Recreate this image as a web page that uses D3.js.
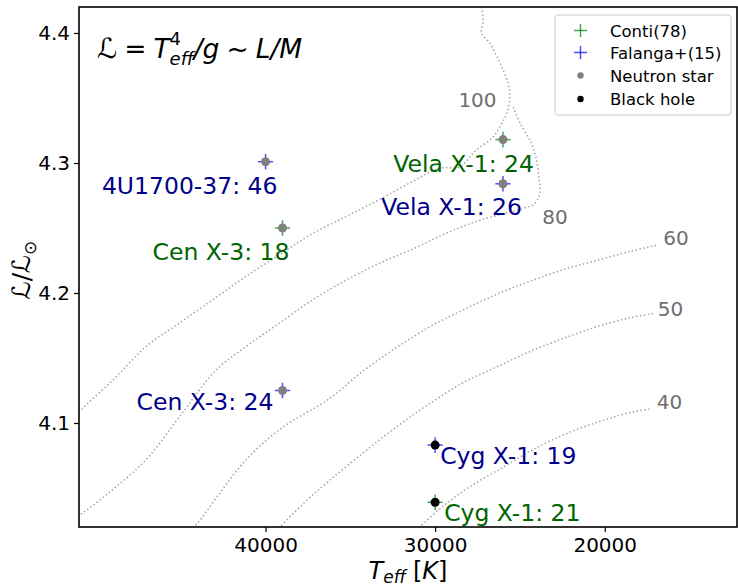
<!DOCTYPE html>
<html>
<head>
<meta charset="utf-8">
<script src="https://cdn.jsdelivr.net/npm/d3@7"></script>
<style>
  body { margin: 0; background: #fff; }
  svg { display: block; font-family: "DejaVu Sans", "Noto Sans", sans-serif; }
</style>
</head>
<body>
<svg id="chart" width="738" height="586"></svg>
<script>
// ---- HMXB donor stars: effective temperature vs spectroscopic luminosity ----
const contiNames = ["Vela X-1", "Cen X-3", "Cyg X-1"];
const contiTeff  = [26000, 39000, 30000];
const contiLogL  = [4.318, 4.250, 4.039];
const contiMass  = [24, 18, 21];
const contiKind  = ["NS", "NS", "BH"];

const falangaNames = ["4U1700-37", "Vela X-1", "Cen X-3", "Cyg X-1"];
const falangaTeff  = [40000, 26000, 39000, 30000];
const falangaLogL  = [4.301, 4.284, 4.125, 4.083];
const falangaMass  = [46, 26, 24, 19];
const falangaKind  = ["NS", "NS", "NS", "BH"];

const teffErr = 450;
const logLErr = 0.006;

// iso-mass tracks, [Teff, log L/L_sun]
const massLevels = [100, 80, 60, 50, 40];
const track100 = [[27262,4.420],[27168,4.410],[27262,4.400],[26773,4.392],[26183,4.377],[25693,4.361],
  [25593,4.351],[25787,4.338],[26183,4.328],[26578,4.320],[27658,4.309],[28543,4.297],[29723,4.296],
  [31298,4.286],[33263,4.272],[35227,4.259],[37198,4.246],[38767,4.233],[41127,4.213],[43098,4.195],
  [45063,4.177],[47027,4.159],[48998,4.133],[50963,4.109],[51500,4.101]];
const track80 = [[25398,4.343],[25003,4.331],[24312,4.315],[24017,4.302],[23864,4.287],[23823,4.277],
  [24118,4.269],[24808,4.265],[27363,4.256],[29327,4.246],[31298,4.234],[33263,4.223],[35227,4.210],
  [37198,4.195],[39163,4.177],[41127,4.159],[42897,4.141],[45063,4.105],[47027,4.072],[48998,4.049],
  [50768,4.031],[51500,4.025]];
const track60 = [[44500,4.018],[44077,4.022],[42703,4.046],[41127,4.072],[39163,4.095],[36213,4.119],
  [34248,4.140],[32277,4.158],[30313,4.174],[28348,4.187],[26377,4.199],[24413,4.209],[22448,4.218],
  [20477,4.225],[18513,4.232],[16843,4.237]];
const track50 = [[39400,4.017],[39163,4.020],[37688,4.039],[36213,4.056],[34248,4.077],[32277,4.097],
  [30313,4.115],[28348,4.131],[26377,4.143],[24413,4.155],[22448,4.165],[20477,4.174],[18513,4.181],
  [17138,4.184]];
const track40 = [[31100,4.017],[30903,4.020],[29528,4.036],[27953,4.051],[25988,4.066],[24017,4.081],
  [22053,4.093],[20088,4.102],[18513,4.108],[17215,4.111]];
const tracks = [track100, track80, track60, track50, track40];
// where each mass value is written, [Teff, log L]
const massLabelAt = [[26377,4.3433],[23687,4.2528],[16548,4.2369],[16878,4.1825],[16937,4.1108]];
const massLabelAnchor = ["end", "start", "start", "start", "start"];

const xTicks = [40000, 30000, 20000];
const yTicks = [4.1, 4.2, 4.3, 4.4];
const legendLabels = ["Conti(78)", "Falanga+(15)", "Neutron star", "Black hole"];

// ---- layout ----
const W = 738, H = 586;
const plot = { left: 79, right: 737, top: 7, bottom: 527 };
const svg = d3.select("#chart");

const x = d3.scaleLinear().domain([51000, 12200]).range([plot.left, plot.right]);
const y = d3.scaleLinear().domain([4.02, 4.42]).range([plot.bottom, plot.top]);

const colors = {
  contiCross: "rgba(0,128,0,0.7)", falangaCross: "rgba(0,0,255,0.7)",
  contiText: "#006400", falangaText: "#00008b",
  NS: "#808080", BH: "#000000", track: "#a4a4a4", trackText: "#6e6e6e"
};

svg.append("defs").append("clipPath").attr("id", "plotClip")
  .append("rect").attr("x", plot.left).attr("y", plot.top)
  .attr("width", plot.right - plot.left).attr("height", plot.bottom - plot.top);

// ---- iso-mass tracks ----
const line = d3.line().x(d => x(d[0])).y(d => y(d[1])).curve(d3.curveCatmullRom.alpha(0.5));
const gTracks = svg.append("g").attr("clip-path", "url(#plotClip)");
tracks.forEach(t => {
  gTracks.append("path").attr("d", line(t)).attr("fill", "none")
    .attr("stroke", colors.track).attr("stroke-width", 1.5)
    .attr("stroke-dasharray", "1.5,2.4");
});
massLevels.forEach((m, i) => {
  svg.append("text").attr("x", x(massLabelAt[i][0])).attr("y", y(massLabelAt[i][1]))
    .attr("text-anchor", massLabelAnchor[i]).attr("font-size", 20)
    .attr("fill", colors.trackText).text(m);
});

// ---- stars ----
function rows(names, teff, logL, mass, kind, set) {
  return names.map((n, i) => ({ name: n, T: teff[i], L: logL[i], M: mass[i], kind: kind[i], set }));
}
const stars = rows(contiNames, contiTeff, contiLogL, contiMass, contiKind, "conti")
  .concat(rows(falangaNames, falangaTeff, falangaLogL, falangaMass, falangaKind, "falanga"));

// label placement relative to each marker (px)
const labelPlace = {
  "conti|Vela X-1":    { anchor: "end",   dx: 31, dy: 32 },
  "conti|Cen X-3":     { anchor: "end",   dx: 7,  dy: 32 },
  "conti|Cyg X-1":     { anchor: "start", dx: 9,  dy: 19 },
  "falanga|4U1700-37": { anchor: "end",   dx: 12, dy: 32 },
  "falanga|Vela X-1":  { anchor: "end",   dx: 19, dy: 31 },
  "falanga|Cen X-3":   { anchor: "end",   dx: -9, dy: 19 },
  "falanga|Cyg X-1":   { anchor: "start", dx: 5,  dy: 19 }
};

const gStars = svg.append("g");
stars.forEach(s => {
  const cx = x(s.T), cy = y(s.L);
  const c = s.set === "conti" ? colors.contiCross : colors.falangaCross;
  gStars.append("line").attr("x1", x(s.T - teffErr)).attr("x2", x(s.T + teffErr))
    .attr("y1", cy).attr("y2", cy).attr("stroke", c).attr("stroke-width", 1.5);
  gStars.append("line").attr("x1", cx).attr("x2", cx)
    .attr("y1", y(s.L - logLErr)).attr("y2", y(s.L + logLErr)).attr("stroke", c).attr("stroke-width", 1.5);
});
stars.forEach(s => {
  gStars.append("circle").attr("cx", x(s.T)).attr("cy", y(s.L)).attr("r", 4.5)
    .attr("fill", colors[s.kind]);
});
stars.forEach(s => {
  const p = labelPlace[s.set + "|" + s.name];
  gStars.append("text").attr("x", x(s.T) + p.dx).attr("y", y(s.L) + p.dy)
    .attr("text-anchor", p.anchor).attr("font-size", 23.5)
    .attr("fill", s.set === "conti" ? colors.contiText : colors.falangaText)
    .text(`${s.name}: ${s.M}`);
});

// ---- axes ----
const xAxis = d3.axisBottom(x).tickValues(xTicks).tickFormat(d3.format("d"))
  .tickSize(5).tickSizeOuter(0).tickPadding(6);
const yAxis = d3.axisLeft(y).tickValues(yTicks).tickFormat(d3.format(".1f"))
  .tickSize(5).tickSizeOuter(0).tickPadding(4);
const gx = svg.append("g").attr("transform", `translate(0,${plot.bottom})`).call(xAxis);
const gy = svg.append("g").attr("transform", `translate(${plot.left},0)`).call(yAxis);
[gx, gy].forEach(g => {
  g.select(".domain").remove();
  g.selectAll(".tick line").attr("stroke", "#000").attr("stroke-width", 1.2);
  g.selectAll(".tick text").attr("font-size", 20).attr("fill", "#000")
    .attr("font-family", "DejaVu Sans, sans-serif");
});
svg.append("rect").attr("x", plot.left).attr("y", plot.top)
  .attr("width", plot.right - plot.left).attr("height", plot.bottom - plot.top)
  .attr("fill", "none").attr("stroke", "#000").attr("stroke-width", 1.6);

// ---- math-like text rows ----
function mathRow(parent, x0, y0, items, base) {
  let cx = x0;
  items.forEach(it => {
    if (it.stack) {
      const widths = it.stack.map(s => parent.append("text")
        .attr("x", cx).attr("y", y0 + s.shift).attr("font-size", s.size)
        .attr("font-style", s.italic ? "italic" : "normal").text(s.text)
        .node().getComputedTextLength());
      cx += Math.max(...widths);
    } else {
      const t = parent.append("text").attr("x", cx + (it.pre || 0)).attr("y", y0 + (it.shift || 0))
        .attr("font-size", it.size || base).attr("font-style", it.italic ? "italic" : "normal")
        .text(it.text);
      cx += (it.pre || 0) + t.node().getComputedTextLength() + (it.post || 0);
    }
  });
  return cx - x0;
}

// formula in the upper-left corner
const gTitle = svg.append("g");
mathRow(gTitle, 97, 58, [
  { text: "\u2112", size: 28 },
  { text: "=", pre: 7, post: 7 },
  { text: "T", italic: true },
  { stack: [{ text: "4", size: 18, shift: -13 }, { text: "eff", size: 18, shift: 7, italic: true }] },
  { text: "/g", italic: true },
  { text: "~", pre: 7, post: 7 },
  { text: "L/M", italic: true }
], 26.5);

// x-axis label
const gXLab = svg.append("g");
const xw = mathRow(gXLab, 0, 0, [
  { text: "T", italic: true },
  { text: "eff", size: 17, shift: 4, italic: true, post: 7 },
  { text: "[" }, { text: "K", italic: true }, { text: "]" }
], 24);
gXLab.attr("transform", `translate(${(plot.left + plot.right) / 2 - xw / 2},579)`);

// y-axis label
const gYLab = svg.append("g");
const yInner = gYLab.append("g");
const yw = mathRow(yInner, 0, 0, [
  { text: "\u2112" }, { text: "/" }, { text: "\u2112" },
  { text: "\u2299", size: 17, shift: 6 }
], 25);
gYLab.attr("transform", `translate(30,${(plot.top + plot.bottom) / 2 + 3}) rotate(-90) translate(${-yw / 2},0)`);

// ---- legend ----
const lg = svg.append("g");
lg.append("rect").attr("x", 555).attr("y", 15).attr("width", 176).attr("height", 100)
  .attr("rx", 3).attr("fill", "rgba(255,255,255,0.85)").attr("stroke", "#cccccc").attr("stroke-width", 1);
const legendRowY = [30.5, 52.5, 75.5, 99];
const legendSwatch = [
  { type: "cross", color: colors.contiCross },
  { type: "cross", color: colors.falangaCross },
  { type: "dot", color: colors.NS },
  { type: "dot", color: colors.BH }
];
legendLabels.forEach((lab, i) => {
  const cy = legendRowY[i], cx = 580.5, sw = legendSwatch[i];
  if (sw.type === "cross") {
    lg.append("line").attr("x1", cx - 6.5).attr("x2", cx + 6.5).attr("y1", cy).attr("y2", cy)
      .attr("stroke", sw.color).attr("stroke-width", 1.5);
    lg.append("line").attr("x1", cx).attr("x2", cx).attr("y1", cy - 6.5).attr("y2", cy + 6.5)
      .attr("stroke", sw.color).attr("stroke-width", 1.5);
  } else {
    lg.append("circle").attr("cx", cx).attr("cy", cy).attr("r", 3.2).attr("fill", sw.color);
  }
  lg.append("text").attr("x", 610).attr("y", cy + 6).attr("font-size", 16.5).attr("fill", "#000").text(lab);
});
</script>
</body>
</html>
